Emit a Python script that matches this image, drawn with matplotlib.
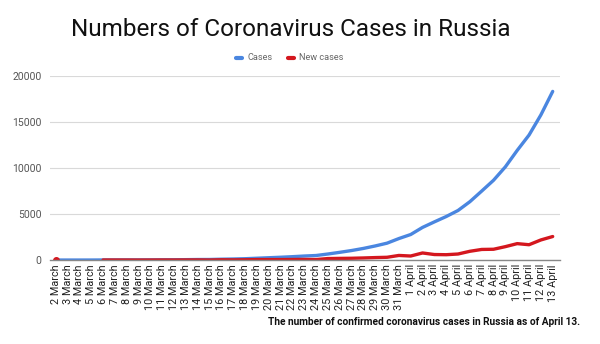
import numpy as np
import matplotlib.pyplot as plt

plt.rcParams['font.family'] = ['Roboto', 'DejaVu Sans']

# Dates 2 March .. 13 April
days_march = list(range(2, 32))
days_april = list(range(1, 14))
dates = [f"{d} March" for d in days_march] + [f"{d} April" for d in days_april]

# Total confirmed cases
cases = [3, 3, 3, 4, 10, 14, 17, 17, 20, 28, 34, 45, 59, 63, 93, 114, 147, 199,
         253, 306, 367, 438, 495, 658, 840, 1036, 1264, 1534, 1836, 2337,
         2777, 3548, 4149, 4731, 5389, 6343, 7497, 8672, 10131, 11917, 13584,
         15770, 18328]

# New cases per day (no data for 3-5 March)
new_cases = [3, np.nan, np.nan, np.nan, 6, 4, 3, 0, 3, 8, 6, 11, 14, 4, 30, 21,
             33, 52, 54, 53, 61, 71, 57, 163, 182, 196, 228, 270, 302, 501,
             440, 771, 601, 582, 658, 954, 1154, 1175, 1459, 1786, 1667, 2186,
             2558]

yticks = [0, 5000, 10000, 15000, 20000]

x = np.arange(len(dates))

fig = plt.figure(figsize=(6, 3.44), dpi=100)
ax = fig.add_axes([0.083, 0.244, 0.85, 0.535])

ax.plot(x, cases, color='#4a86e0', lw=2.4, label='Cases', solid_capstyle='round')
ax.plot(x, new_cases, color='#d4171e', lw=2.4, label='New cases', solid_capstyle='round')
ax.plot(x[0], new_cases[0], 'o', color='#d4171e', ms=4)

ax.set_xlim(-0.5, 42.6)
ax.set_ylim(0, 20000)
ax.set_yticks(yticks)
ax.set_yticklabels([str(v) for v in yticks], fontsize=7.5, color='#555555')
ax.set_xticks(x)
ax.set_xticklabels(dates, rotation=90, fontsize=7.8, color='#222222')
ax.tick_params(axis='both', length=0, pad=3)
ax.tick_params(axis='y', pad=6)

ax.grid(axis='y', color='#d9d9d9', lw=0.8)
ax.set_axisbelow(True)
for s in ['top', 'right', 'left']:
    ax.spines[s].set_visible(False)
ax.spines['bottom'].set_color('#888888')
ax.spines['bottom'].set_linewidth(1.0)

fig.text(0.485, 0.915, 'Numbers of Coronavirus Cases in Russia', ha='center',
         va='center', fontsize=17.5, color='#111111')

leg = ax.legend(loc='center', bbox_to_anchor=(0.483, 0.832), bbox_transform=fig.transFigure,
                ncol=2, frameon=False, fontsize=6.6, handlelength=0.7, handleheight=0.3,
                columnspacing=1.6, handletextpad=0.6)
for t in leg.get_texts():
    t.set_color('#666666')
for h in leg.get_lines():
    h.set_linewidth(3)

fig.text(0.967, 0.063, 'The number of confirmed coronavirus cases in Russia as of April 13.',
         ha='right', va='center', fontsize=7.3, fontweight='bold', color='#111111')

fig.savefig('out.png', dpi=100, facecolor='white')
